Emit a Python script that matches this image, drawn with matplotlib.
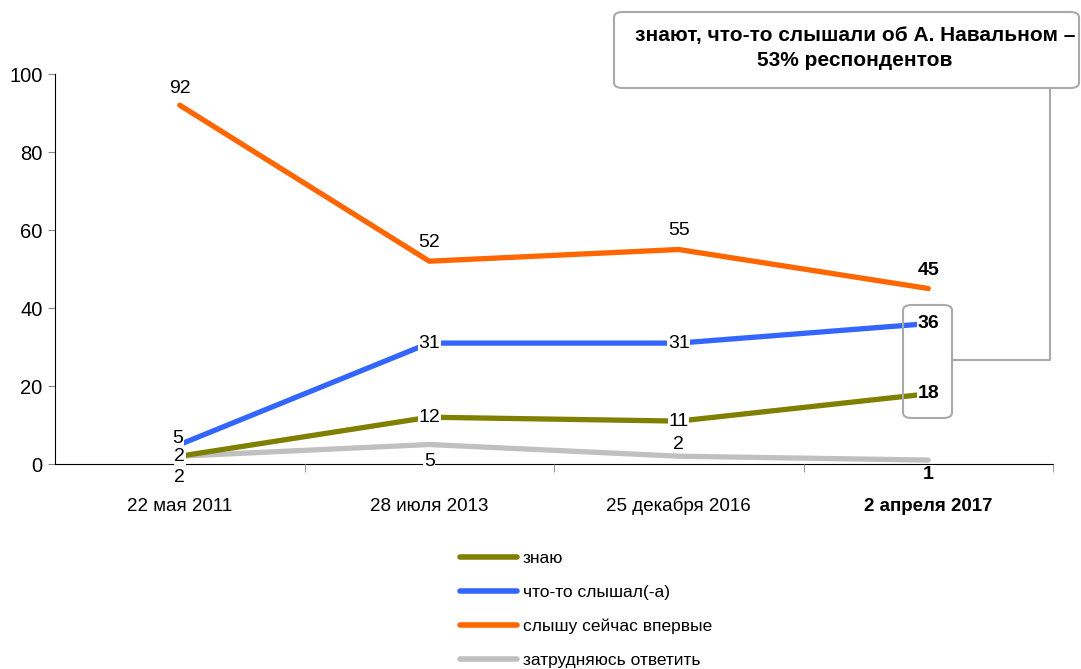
import matplotlib
matplotlib.use("Agg")
import matplotlib.pyplot as plt
from matplotlib import font_manager
from matplotlib.patches import FancyBboxPatch
from matplotlib.lines import Line2D

# шрифт: узкий, если есть
names = {f.name for f in font_manager.fontManager.ttflist}
fam = "Liberation Sans Narrow" if "Liberation Sans Narrow" in names else "Liberation Sans"
plt.rcParams['font.family'] = [fam, 'DejaVu Sans']

dates = ["22 мая 2011", "28 июля 2013", "25 декабря 2016", "2 апреля 2017"]
series_names = ["знаю", "что-то слышал(-а)", "слышу сейчас впервые", "затрудняюсь ответить"]
znayu = [2, 12, 11, 18]
slyshal = [5, 31, 31, 36]
vpervye = [92, 52, 55, 45]
zatrud = [2, 5, 2, 1]

colors = ["#808000", "#3366ff", "#ff6600", "#c0c0c0"]

# смещения подписей (пиксели)
lab_off = {
    0: [(0, 0), (0, 0), (0, 0), (0, 0)],
    1: [(-2, 6), (0, 0), (0, 0), (0, 0)],
    2: [(0, 17), (0, 19), (0, 19), (0, 18)],
    3: [(0, -21), (0, -17), (0, 12), (0, -14)],
}

W, H = 1081, 669
fig = plt.figure(figsize=(W / 100, H / 100), dpi=100)
ax = fig.add_axes([55 / W, 1 - 464 / H, (1053 - 55) / W, (464 - 74) / H])

x = list(range(len(dates)))
data = [znayu, slyshal, vpervye, zatrud]
z = [3, 4, 5, 2]
for i, vals in enumerate(data):
    ax.plot(x, vals, color=colors[i], lw=3.8, solid_capstyle='round', zorder=z[i],
            label=series_names[i])
    for j, v in enumerate(vals):
        dx, dy = lab_off[i][j]
        bold = j == len(vals) - 1
        bg = dict(facecolor='white', edgecolor='none', pad=0.3) if i != 2 else None
        ax.annotate(str(v), (x[j], v), xytext=(dx, dy), textcoords='offset pixels',
                    ha='center', va='center', fontsize=14,
                    fontweight='bold' if bold else 'normal', bbox=bg, zorder=6)

ax.set_xlim(-0.5, 3.5)
ax.set_ylim(0, 100)
ax.set_yticks(range(0, 101, 20))
ax.tick_params(axis='y', labelsize=14.5, length=5, color='#888888', pad=4)
ax.set_xticks(x)
ax.set_xticklabels(dates)
ax.tick_params(axis='x', length=0, labelsize=13.5, pad=34)
for lbl in ax.get_xticklabels():
    lbl.set_va('baseline')
ax.get_xticklabels()[-1].set_fontweight('bold')
ax.set_xticks([0.5, 1.5, 2.5, 3.5], minor=True)
ax.tick_params(axis='x', which='minor', length=6, color='#888888')
for s in ['top', 'right']:
    ax.spines[s].set_visible(False)
ax.spines['left'].set_color('black')
ax.spines['bottom'].set_color('black')
ax.spines['bottom'].set_zorder(1)

# выноска
def fx(px):
    return px / W

def fy(py):
    return 1 - py / H

box = FancyBboxPatch((fx(614), fy(88)), fx(1079 - 614), (88 - 12) / H,
                     boxstyle="round,pad=0,rounding_size=0.008", transform=fig.transFigure,
                     facecolor='white', edgecolor='#aaaaaa', lw=1.5, zorder=1)
fig.patches.append(box)
fig.text(fx(855), fy(35), "знают, что-то слышали об А. Навальном –", ha='center', va='center',
         fontsize=15, fontweight='bold')
fig.text(fx(855), fy(60), "53% респондентов", ha='center', va='center',
         fontsize=15, fontweight='bold')
small = FancyBboxPatch((fx(903), fy(418)), fx(952 - 903), (418 - 305) / H,
                       boxstyle="round,pad=0,rounding_size=0.008", transform=fig.transFigure,
                       facecolor='none', edgecolor='#aaaaaa', lw=1.5, zorder=7)
fig.patches.append(small)
fig.lines.append(Line2D([fx(1050), fx(1050), fx(952)], [fy(88), fy(360), fy(360)],
                        transform=fig.transFigure, color='#aaaaaa', lw=1.5))

handles = [Line2D([], [], color=c, lw=4, solid_capstyle='round') for c in colors]
fig.legend(handles, series_names, loc='upper left', bbox_to_anchor=(fx(444), fy(535)),
           frameon=False, fontsize=12.5, handlelength=3.3, labelspacing=1.08,
           handletextpad=0.35)

fig.savefig("out.png", dpi=100)
